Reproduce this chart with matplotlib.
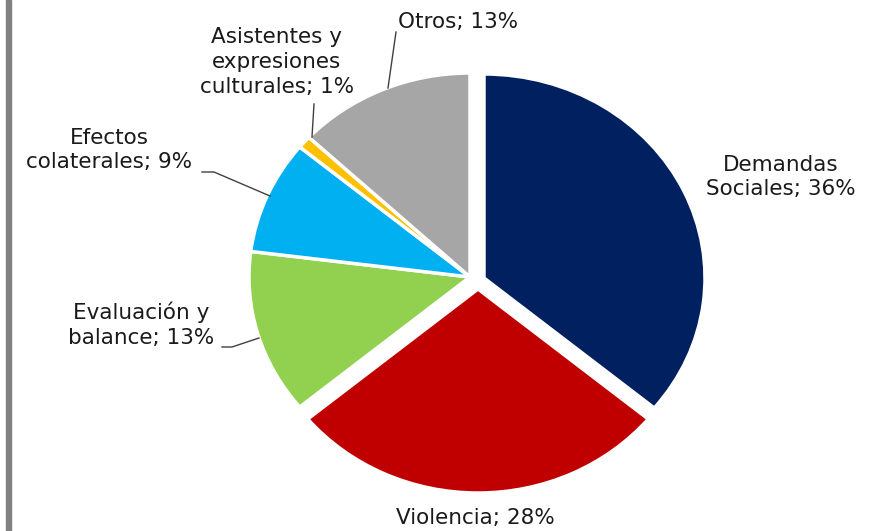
import matplotlib
matplotlib.use("Agg")
import matplotlib.pyplot as plt
from matplotlib.patches import Rectangle

categories = ["Demandas\nSociales", "Violencia", "Evaluación y\nbalance",
              "Efectos\ncolaterales", "Asistentes y\nexpresiones\nculturales", "Otros"]
values = [36, 28, 13, 9, 1, 13]
colors = ["#002060", "#C00000", "#92D050", "#00B0F0", "#FFC000", "#A6A6A6"]

W, H = 878, 531
CX, CY = 470, 277
RX, RY = 221, 204


def p2d(px, py):
    return (px - CX) / RX, (CY - py) / RY


fig = plt.figure(figsize=(W / 100, H / 100), dpi=100)
ax = fig.add_axes([0, 0, 1, 1])
wedges, _ = ax.pie(values, colors=colors, startangle=90, counterclock=False,
                   wedgeprops=dict(edgecolor="white", linewidth=2.5))
# pixel offsets of the separated slices (as in the reference)
offsets_px = [(14, 1), (8, 12), (0, 0), (0, 0), (0, 0), (0, 0)]
for w, (dx, dy) in zip(wedges, offsets_px):
    w.set_center((dx / RX, -dy / RY))
ax.set_aspect("auto")
ax.set_xlim(-CX / RX, (W - CX) / RX)
ax.set_ylim((CY - H) / RY, CY / RY)
ax.axis("off")

# label positions (pixel centers) and leader lines
label_px = [(781, 177), (475, 518), (141, 325), (109, 150), (277, 62), (458, 22)]
leaders = {
    2: [(222, 347), (232, 347), (259, 338)],
    3: [(202, 172), (214, 172), (270, 196)],
    4: [(312, 137), (314, 104)],
    5: [(388, 88), (396, 32)],
}
for i, (cat, v) in enumerate(zip(categories, values)):
    x, y = p2d(*label_px[i])
    ax.text(x, y, f"{cat}; {v}%", ha="center", va="center", fontsize=15.5,
            color="#1a1a1a", linespacing=1.3, family="DejaVu Sans")
    if i in leaders:
        pts = [p2d(*p) for p in leaders[i]]
        ax.plot([p[0] for p in pts], [p[1] for p in pts], color="#404040", lw=1)

# left border bar
fig.patches.append(Rectangle((6 / W, 0), 5 / W, 1, transform=fig.transFigure,
                             color="#808080", zorder=0))

fig.savefig("out.png", dpi=100)
